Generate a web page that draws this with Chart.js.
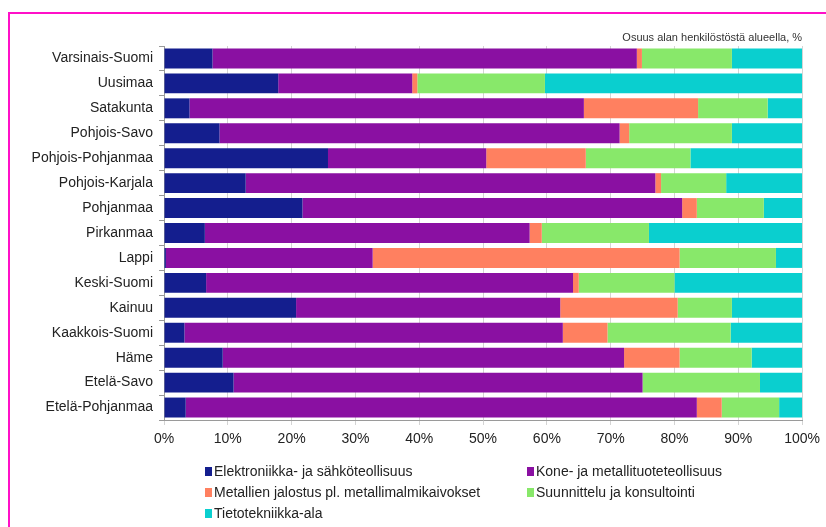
<!DOCTYPE html>
<html>
<head>
<meta charset="utf-8">
<script src="https://cdn.jsdelivr.net/npm/chart.js@4"></script>
<style>
  body { margin:0; background:#fff; font-family:"Liberation Sans", Arial, sans-serif; }
  #wrap { position:relative; width:826px; height:527px; overflow:hidden; }
  #frame { position:absolute; left:8px; top:12px; width:840px; height:540px;
           border-left:2px solid #ff10c8; border-top:2px solid #ff10c8; }
  canvas { position:absolute; left:0; top:0; }
  #legend { position:absolute; left:205px; top:462px; display:grid;
            grid-template-columns:322px 300px; row-gap:3px; font-size:14px; color:#222; }
  #legend span.item { display:flex; align-items:center; height:18px; white-space:nowrap; }
  #legend i { display:inline-block; width:7px; height:9px; margin-right:2px; }
</style>
</head>
<body>
<div id="wrap">
  <div id="frame"></div>
  <canvas id="c" width="826" height="527"></canvas>
  <div id="legend"></div>
</div>
<script>
const REGIONS = [
  "Varsinais-Suomi","Uusimaa","Satakunta","Pohjois-Savo","Pohjois-Pohjanmaa",
  "Pohjois-Karjala","Pohjanmaa","Pirkanmaa","Lappi","Keski-Suomi","Kainuu",
  "Kaakkois-Suomi","Häme","Etelä-Savo","Etelä-Pohjanmaa"
];
const SERIES = [
  "Elektroniikka- ja sähköteollisuus",
  "Kone- ja metallituoteteollisuus",
  "Metallien jalostus pl. metallimalmikaivokset",
  "Suunnittelu ja konsultointi",
  "Tietotekniikka-ala"
];
const COLORS = ["#141e8e","#8a10a2","#ff8060","#88e86a","#0acfcf"];

// share of staff per sector, % (one array per sector, same order as REGIONS)
const elektroniikka = [7.6,17.9,4.0,8.7,25.7,12.8,21.7,6.4,0.3,6.6,20.7,3.2,9.2,10.9,3.4];
const kone          = [66.5,21.0,61.8,62.7,24.8,64.2,59.5,50.9,32.4,57.5,41.4,59.3,62.9,64.1,80.1];
const metallit      = [0.8,0.8,17.9,1.5,15.6,0.9,2.3,1.9,48.1,0.9,18.4,7.0,8.7,0.0,3.9];
const suunnittelu   = [14.1,20.0,10.9,16.1,16.4,10.2,10.5,16.8,15.1,15.0,8.5,19.3,11.3,18.4,9.0];
const tietotekniikka= [11.0,40.3,5.4,11.0,17.5,11.9,6.0,24.0,4.1,20.0,11.0,11.2,7.9,6.6,3.6];
const VALUES = [elektroniikka, kone, metallit, suunnittelu, tietotekniikka];

const FONT = "'Liberation Sans', Arial, sans-serif";

// small caption above the plot, right aligned
const caption = {
  id: 'caption',
  afterDraw(chart){
    const {ctx, chartArea} = chart;
    ctx.save();
    ctx.font = "11px " + FONT;
    ctx.fillStyle = "#333";
    ctx.textAlign = "right";
    ctx.textBaseline = "alphabetic";
    ctx.fillText("Osuus alan henkilöstöstä alueella, %", chartArea.right, 41);
    ctx.restore();
  }
};

new Chart(document.getElementById('c'), {
  type: 'bar',
  data: {
    labels: REGIONS,
    datasets: SERIES.map((name, i) => ({
      label: name,
      data: VALUES[i],
      backgroundColor: COLORS[i],
      borderWidth: 0,
      barPercentage: 0.8,
      categoryPercentage: 1
    }))
  },
  options: {
    indexAxis: 'y',
    responsive: false,
    animation: false,
    layout: { padding: { top: 46, right: 20, bottom: 77, left: 0 } },
    plugins: { legend: { display: false }, tooltip: { enabled: false } },
    scales: {
      x: {
        stacked: true, min: 0, max: 100,
        ticks: { stepSize: 10, callback: v => v + '%', color: '#222',
                 font: { family: FONT, size: 14 }, padding: 6 },
        grid: { color: '#d4d4d4', tickLength: 5, drawTicks: true },
        border: { color: '#9a9a9a' },
        afterFit: s => { s.height = 30; }
      },
      y: {
        stacked: true,
        ticks: { color: '#222', font: { family: FONT, size: 14 }, padding: 6 },
        grid: { drawOnChartArea: false, offset: true, tickLength: 5, color: '#9a9a9a' },
        border: { color: '#9a9a9a' },
        afterFit: s => { s.width = 164; }
      }
    }
  },
  plugins: [caption]
});

// two-column legend below the chart
const legend = document.getElementById('legend');
legend.innerHTML = SERIES.map((name, i) =>
  `<span class="item"><i style="background:${COLORS[i]}"></i>${name}</span>`).join('');
</script>
</body>
</html>
